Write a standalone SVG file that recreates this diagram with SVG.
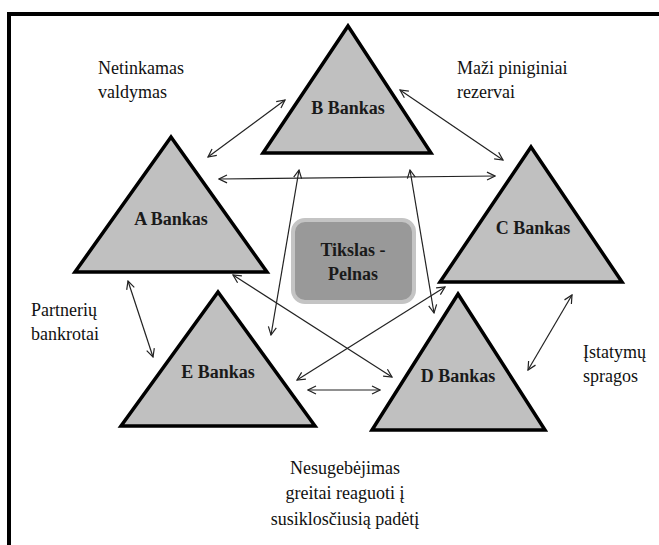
<svg xmlns="http://www.w3.org/2000/svg" width="659" height="545" viewBox="0 0 659 545">
  <style>
    .bank { fill: #c0c0c0; stroke: #000; stroke-width: 3.5; stroke-linejoin: miter; }
    .bank-label { font-size: 18px; font-weight: bold; fill: #1a1a1a; text-anchor: middle; }
    .note { font-size: 18px; fill: #111; }
    .link { stroke: #222; stroke-width: 1.2; fill: none; marker-start: url(#head); marker-end: url(#head); }
  </style>
  <defs>
    <marker id="head" viewBox="0 0 10 10" refX="9" refY="5" markerWidth="10" markerHeight="10" markerUnits="userSpaceOnUse" orient="auto-start-reverse">
      <path d="M1,1 L9,5 L1,9" fill="none" stroke="#222" stroke-width="1.2"/>
    </marker>
  </defs>

  <rect width="659" height="545" fill="#fff"/>
  <!-- outer frame, running off the right and bottom edges -->
  <rect x="9" y="14" width="700" height="600" fill="none" stroke="#000" stroke-width="4"/>

  <!-- connectors -->
  <g id="connectors">
    <line class="link" x1="208" y1="157" x2="285" y2="100"/>
    <line class="link" x1="400" y1="90" x2="503" y2="160"/>
    <line class="link" x1="219" y1="179" x2="495" y2="176"/>
    <line class="link" x1="299" y1="170" x2="271" y2="335"/>
    <line class="link" x1="410" y1="170" x2="434" y2="313"/>
    <line class="link" x1="233" y1="275" x2="392" y2="377"/>
    <line class="link" x1="297" y1="380" x2="445" y2="287"/>
    <line class="link" x1="308" y1="390" x2="380" y2="390"/>
    <line class="link" x1="128" y1="281" x2="153" y2="357"/>
    <line class="link" x1="572" y1="295" x2="528" y2="370"/>
  </g>

  <g font-family="Liberation Serif, Times New Roman, serif">
  <!-- banks -->
  <g id="bank-b">
    <polygon class="bank" points="348,26 431,153 263,153"/>
    <text class="bank-label" x="348" y="114">B Bankas</text>
  </g>
  <g id="bank-a">
    <polygon class="bank" points="171,137 267,272 75,272"/>
    <text class="bank-label" x="171" y="225">A Bankas</text>
  </g>
  <g id="bank-c">
    <polygon class="bank" points="531,147 622,282 440,282"/>
    <text class="bank-label" x="533" y="234">C Bankas</text>
  </g>
  <g id="bank-e">
    <polygon class="bank" points="218,292 315,426 121,426"/>
    <text class="bank-label" x="218" y="378">E Bankas</text>
  </g>
  <g id="bank-d">
    <polygon class="bank" points="458,294 545,430 372,430"/>
    <text class="bank-label" x="458" y="382">D Bankas</text>
  </g>

  <!-- goal in the centre -->
  <g id="goal">
    <rect x="293" y="220" width="121" height="82" rx="12" ry="12" fill="#999" stroke="#c4c4c4" stroke-width="4"/>
    <text class="bank-label" x="353" y="256">Tikslas -</text>
    <text class="bank-label" x="353" y="280">Pelnas</text>
  </g>

  <!-- risk labels -->
  <g id="label-valdymas">
    <text class="note" x="98" y="74">Netinkamas</text>
    <text class="note" x="98" y="98">valdymas</text>
  </g>
  <g id="label-rezervai">
    <text class="note" x="457" y="74">Maži piniginiai</text>
    <text class="note" x="457" y="98">rezervai</text>
  </g>
  <g id="label-bankrotai">
    <text class="note" x="31" y="316">Partnerių</text>
    <text class="note" x="31" y="340">bankrotai</text>
  </g>
  <g id="label-spragos">
    <text class="note" x="583" y="358">Įstatymų</text>
    <text class="note" x="583" y="382">spragos</text>
  </g>
  <g id="label-reakcija">
    <text class="note" x="345" y="474" text-anchor="middle">Nesugebėjimas</text>
    <text class="note" x="345" y="499" text-anchor="middle">greitai reaguoti į</text>
    <text class="note" x="345" y="525" text-anchor="middle">susiklosčiusią padėtį</text>
  </g>
  </g>
</svg>
